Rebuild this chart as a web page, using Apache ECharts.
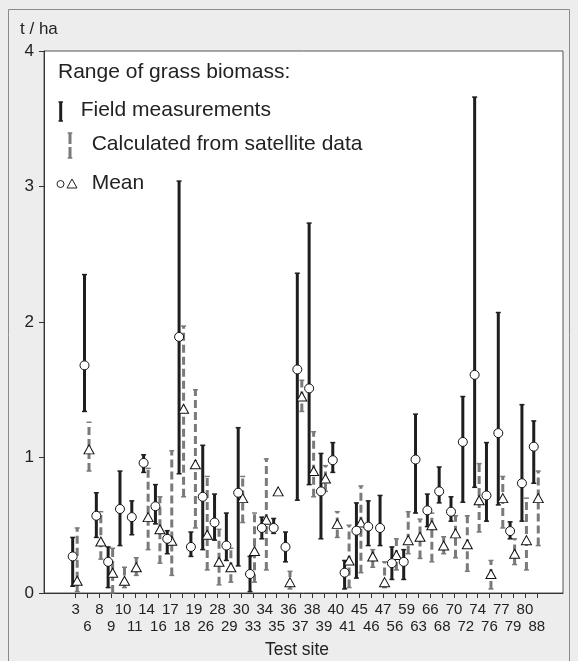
<!DOCTYPE html>
<html>
<head>
<meta charset="utf-8">
<script src="https://cdn.jsdelivr.net/npm/echarts@6/dist/echarts.min.js"></script>
<style>
html,body{margin:0;padding:0;background:#ededed;}
#chart{width:578px;height:661px;}
</style>
</head>
<body>
<div id="chart"></div>
<script>
// Test sites (category labels)
const sites = ['3','6','8','9','10','11','14','16','17','18','19','26','28','29','30','33','34','35','36','37','38','39','40','41','45','46','47','56','59','63','66','68','70','72','74','76','77','79','80','88'];
// Field measurements (t/ha)
const fieldLow  = [0.05,1.34,0.41,0.04,0.35,0.43,0.89,0.51,0.29,0.88,0.27,0.32,0.39,0.24,0.20,0.01,0.40,0.44,0.23,0.685,0.80,0.40,0.89,0.03,0.11,0.35,0.35,0.10,0.10,0.59,0.49,0.665,0.53,0.67,0.78,0.53,0.65,0.40,0.53,0.81];
const fieldHigh = [0.41,2.35,0.74,0.34,0.90,0.68,1.02,0.80,0.46,3.04,0.45,1.09,0.73,0.59,1.22,0.27,0.56,0.55,0.45,2.36,2.73,1.03,1.11,0.24,0.665,0.68,0.72,0.34,0.32,1.32,0.73,0.93,0.71,1.45,3.66,1.11,2.07,0.525,1.39,1.27];
const fieldMean = [0.27,1.68,0.57,0.23,0.62,0.56,0.96,0.64,0.40,1.89,0.34,0.71,0.52,0.35,0.74,0.14,0.48,0.48,0.34,1.65,1.51,0.75,0.98,0.15,0.46,0.49,0.48,0.22,0.23,0.985,0.61,0.75,0.60,1.115,1.61,0.72,1.18,0.457,0.81,1.08];
// Calculated from satellite data (t/ha)
const satLow  = [0.01,0.90,0.25,0.00,0.04,0.13,0.32,0.22,0.13,0.71,0.48,0.17,0.06,0.08,0.52,0.08,0.17,0.75,0.03,1.34,0.71,0.75,0.41,0.04,0.15,0.19,0.04,0.17,0.29,0.255,0.23,0.29,0.26,0.16,0.45,0.03,0.48,0.21,0.17,0.35];
const satHigh = [0.48,1.26,0.60,0.33,0.19,0.26,0.92,0.71,1.05,1.97,1.50,0.86,0.47,0.33,0.86,0.59,0.99,0.75,0.16,1.57,1.19,0.94,0.60,0.50,0.79,0.32,0.23,0.40,0.60,0.545,0.59,0.415,0.57,0.57,0.955,0.24,0.86,0.40,0.70,0.90];
const satMean = [0.09,1.06,0.38,0.15,0.09,0.19,0.56,0.47,0.385,1.36,0.95,0.43,0.23,0.19,0.70,0.31,0.54,0.75,0.08,1.45,0.90,0.845,0.51,0.24,0.52,0.27,0.08,0.28,0.39,0.415,0.50,0.35,0.44,0.36,0.685,0.14,0.70,0.29,0.39,0.70];
const yTicks = [0,1,2,3,4];

const FONT = 'Liberation Sans, Arial, Helvetica, sans-serif';
const idx = sites.map((s,i)=>i);
const evenIdx = idx.filter(i => i % 2 === 0);
const oddIdx = idx.filter(i => i % 2 === 1);

function rangeRenderer(offset, color, dash) {
  return function (params, api) {
    const x = api.value(0), lo = api.value(1), hi = api.value(2);
    const p1 = api.coord([x, lo]);
    const p2 = api.coord([x, hi]);
    const cx = p1[0] + offset;
    return {
      type: 'group',
      children: [
        {type:'line', shape:{x1:cx,y1:p1[1],x2:cx,y2:p2[1]}, style:{stroke:color,lineWidth:3,lineDash:dash}},
        {type:'line', shape:{x1:cx-2.5,y1:p2[1],x2:cx+2.5,y2:p2[1]}, style:{stroke:color,lineWidth:1.5}},
        {type:'line', shape:{x1:cx-2.5,y1:p1[1],x2:cx+2.5,y2:p1[1]}, style:{stroke:color,lineWidth:1.5}}
      ]
    };
  };
}

const labelFmt = function(v){ return sites[Math.round(v)]; };

const chart = echarts.init(document.getElementById('chart'), null, {renderer:'canvas'});
const option = {
  backgroundColor: '#ededed',
  animation: false,
  textStyle: {fontFamily: FONT},
  grid: {left:44, right:15, top:51, bottom:68, show:true, backgroundColor:'#fff', borderColor:'#555', borderWidth:1},
  xAxis: [{
    type:'value', min:-2.68, max:41.22, position:'bottom',
    splitLine:{show:false},
    axisLine:{show:true, onZero:false, lineStyle:{color:'#333', width:1}},
    axisTick:{show:true, length:5, lineStyle:{color:'#333'}, customValues: idx},
    axisLabel:{
      customValues: evenIdx, fontSize:15, color:'#222', margin:9, fontFamily:FONT,
      showMinLabel:true, showMaxLabel:true, hideOverlap:false, formatter: labelFmt
    }
  }, {
    type:'value', min:-2.68, max:41.22, position:'bottom',
    splitLine:{show:false},
    axisLine:{show:false, onZero:false},
    axisTick:{show:false},
    axisLabel:{
      customValues: oddIdx, fontSize:15, color:'#222', margin:26, fontFamily:FONT,
      showMinLabel:true, showMaxLabel:true, hideOverlap:false, formatter: labelFmt
    }
  }],
  yAxis: {
    type:'value', min:0, max:4, interval:1,
    splitLine:{show:false},
    axisLine:{show:true, onZero:false, lineStyle:{color:'#333', width:1}},
    axisTick:{show:true, length:5, lineStyle:{color:'#333'}},
    axisLabel:{fontSize:17, color:'#222', margin:10, fontFamily:FONT,
      formatter: function(v){ return yTicks.indexOf(v) >= 0 ? String(v) : ''; }}
  },
  graphic: [
    {type:'rect', shape:{x:8.5, y:9.5, width:561, height:680}, style:{fill:'none', stroke:'#8a8a8a', lineWidth:1}, silent:true, z:-1},
    {type:'text', x:20, y:29, style:{text:'t / ha', fontSize:17, fill:'#222', fontFamily:FONT, textVerticalAlign:'middle'}},
    {type:'text', x:297, y:650, style:{text:'Test site', fontSize:17.5, fill:'#222', fontFamily:FONT, textAlign:'center', textVerticalAlign:'middle'}},
    {type:'text', x:58, y:72, style:{text:'Range of grass biomass:', fontSize:21, fill:'#222', fontFamily:FONT, textVerticalAlign:'middle'}},
    {type:'line', shape:{x1:60.7,y1:102,x2:60.7,y2:121}, style:{stroke:'#1e1e1e', lineWidth:3}},
    {type:'line', shape:{x1:58.5,y1:102,x2:63,y2:102}, style:{stroke:'#1e1e1e', lineWidth:1.5}},
    {type:'line', shape:{x1:58.5,y1:121,x2:63,y2:121}, style:{stroke:'#1e1e1e', lineWidth:1.5}},
    {type:'text', x:80.7, y:110, style:{text:'Field measurements', fontSize:21, fill:'#222', fontFamily:FONT, textVerticalAlign:'middle'}},
    {type:'line', shape:{x1:70,y1:133,x2:70,y2:158}, style:{stroke:'#7a7a7a', lineWidth:3, lineDash:[11,3]}},
    {type:'line', shape:{x1:67.7,y1:133,x2:72.3,y2:133}, style:{stroke:'#7a7a7a', lineWidth:1.5}},
    {type:'line', shape:{x1:67.7,y1:158,x2:72.3,y2:158}, style:{stroke:'#7a7a7a', lineWidth:1.5}},
    {type:'text', x:91.7, y:144, style:{text:'Calculated from satellite data', fontSize:21, fill:'#222', fontFamily:FONT, textVerticalAlign:'middle'}},
    {type:'circle', shape:{cx:60.5, cy:184, r:3.5}, style:{fill:'#fff', stroke:'#222', lineWidth:1}},
    {type:'polygon', shape:{points:[[72,179],[77,188],[67,188]]}, style:{fill:'#fff', stroke:'#222', lineWidth:1}},
    {type:'text', x:91.7, y:183, style:{text:'Mean', fontSize:21, fill:'#222', fontFamily:FONT, textVerticalAlign:'middle'}}
  ],
  series: [
    {type:'custom', renderItem: rangeRenderer(1.5, '#7a7a7a', [8,4]),
     data: idx.map(i=>[i, satLow[i], satHigh[i]]), z:2, silent:true},
    {type:'custom', renderItem: rangeRenderer(-3, '#1e1e1e', null),
     data: idx.map(i=>[i, fieldLow[i], fieldHigh[i]]), z:3, silent:true},
    {type:'scatter', symbol:'triangle', symbolSize:[10,9], symbolOffset:[1.5,0],
     itemStyle:{color:'#fff', borderColor:'#111', borderWidth:1, opacity:1},
     data: idx.map(i=>[i, satMean[i]]), z:4, silent:true},
    {type:'scatter', symbol:'circle', symbolSize:9, symbolOffset:[-3,0],
     itemStyle:{color:'#fff', borderColor:'#111', borderWidth:1, opacity:1},
     data: idx.map(i=>[i, fieldMean[i]]), z:5, silent:true}
  ]
};
chart.setOption(option);
</script>
</body>
</html>
